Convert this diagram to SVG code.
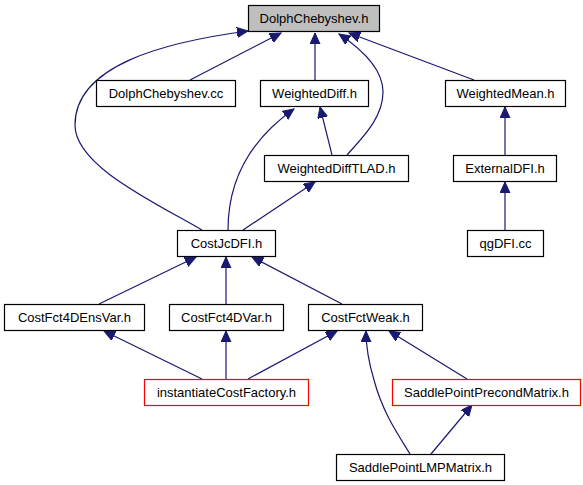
<svg xmlns="http://www.w3.org/2000/svg" width="583" height="485" viewBox="0 0 583 485">
<defs>
<marker id="ah" markerUnits="userSpaceOnUse" markerWidth="13" markerHeight="11" refX="11" refY="5" orient="auto">
<path d="M0,0 L11,5 L0,10 z" fill="#191970" stroke="#191970" stroke-width="1"/>
</marker>
<style>
.n rect{fill:#fff;stroke:#000;stroke-width:1.2}
.n.red rect{stroke:#ff0000}
.n.root rect{fill:#bfbfbf}
.n text{font-family:"Liberation Sans",Arial,sans-serif;font-size:13px;text-anchor:middle;fill:#000}
.e path{fill:none;stroke:#191970;stroke-width:1.2;marker-end:url(#ah)}
</style>
</defs>
<rect width="583" height="485" fill="#fff"/>
<g id="edges" class="e">
<path d="M190,80 L281,33"/>
<path d="M315,80 L315,33"/>
<path d="M347,155 C362,138 383,118 383,92 C383,68 360,48 339,34"/>
<path d="M474,80 L349,33"/>
<path d="M202,230 C150,200 75,165 75,125 C75,65 165,42 248,31"/>
<path d="M332,155 L320,107"/>
<path d="M228,230 C228,180 250,140 294,109"/>
<path d="M243,230 L315,182"/>
<path d="M505,155 L505,107"/>
<path d="M505,230 L505,182"/>
<path d="M99,304 L196,257"/>
<path d="M226,304 L226,257"/>
<path d="M342,304 L252,257"/>
<path d="M202,379 L104,331"/>
<path d="M226,379 L226,331"/>
<path d="M248,379 L337,331"/>
<path d="M410,454 C395,430 382,410 374,380 C368,360 366,345 366,331"/>
<path d="M467,379 L389,331"/>
<path d="M431,454 L472,405"/>
</g>
<g id="n_dolphh" class="n root"><rect x="248.5" y="5.5" width="131" height="26"/><text x="314" y="23">DolphChebyshev.h</text></g>
<g id="n_dolphcc" class="n"><rect x="96.5" y="80.5" width="139" height="26"/><text x="166" y="98">DolphChebyshev.cc</text></g>
<g id="n_wdiff" class="n"><rect x="260.5" y="80.5" width="108" height="26"/><text x="314.5" y="98">WeightedDiff.h</text></g>
<g id="n_wmean" class="n"><rect x="445.5" y="80.5" width="120" height="26"/><text x="505.5" y="98">WeightedMean.h</text></g>
<g id="n_wdifftlad" class="n"><rect x="264.5" y="155.5" width="144" height="26"/><text x="336.5" y="173">WeightedDiffTLAD.h</text></g>
<g id="n_extdfi" class="n"><rect x="453.5" y="155.5" width="103" height="26"/><text x="505" y="173">ExternalDFI.h</text></g>
<g id="n_costjc" class="n"><rect x="177.5" y="230.5" width="98" height="26"/><text x="226.5" y="248">CostJcDFI.h</text></g>
<g id="n_qgdfi" class="n"><rect x="467.5" y="230.5" width="76" height="26"/><text x="505.5" y="248">qgDFI.cc</text></g>
<g id="n_ensvar" class="n"><rect x="4.5" y="304.5" width="140" height="26"/><text x="74.5" y="322">CostFct4DEnsVar.h</text></g>
<g id="n_4dvar" class="n"><rect x="169.5" y="304.5" width="114" height="26"/><text x="226.5" y="322">CostFct4DVar.h</text></g>
<g id="n_weak" class="n"><rect x="308.5" y="304.5" width="114" height="26"/><text x="365.5" y="322">CostFctWeak.h</text></g>
<g id="n_inst" class="n red"><rect x="144.5" y="379.5" width="164" height="26"/><text x="226.5" y="397">instantiateCostFactory.h</text></g>
<g id="n_spprec" class="n red"><rect x="392.5" y="379.5" width="188" height="26"/><text x="486.5" y="397">SaddlePointPrecondMatrix.h</text></g>
<g id="n_splmp" class="n"><rect x="336.5" y="454.5" width="168" height="26"/><text x="420.5" y="472">SaddlePointLMPMatrix.h</text></g>
</svg>
